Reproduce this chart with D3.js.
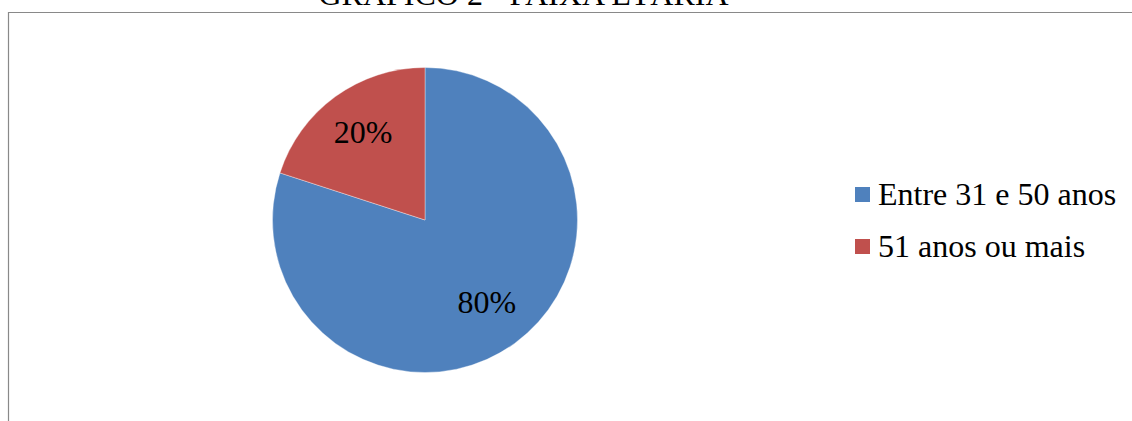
<!DOCTYPE html>
<html>
<head>
<meta charset="utf-8">
<script src="https://cdn.jsdelivr.net/npm/d3@7"></script>
</head>
<body style="margin:0">
<svg id="chart" width="1132" height="421"></svg>
<script>
// Age groups and their shares (percent)
const categories = ["Entre 31 e 50 anos", "51 anos ou mais"];
const values = [80, 20];
const colors = ["#4F81BD", "#C0504D"];
const title = "GRÁFICO 2 - FAIXA ETÁRIA";

const svg = d3.select("#chart");
const W = 1132, H = 421;
const fontSize = 32;

// Chart frame (top and left edges)
svg.append("path")
  .attr("d", `M8.5,${H} L8.5,12.5 L${W},12.5`)
  .attr("fill", "none")
  .attr("stroke", "#898989")
  .attr("stroke-width", 1.2);

// Title
svg.append("text")
  .attr("x", 523.5)
  .attr("y", 5)
  .attr("text-anchor", "middle")
  .attr("font-family", "Liberation Serif")
  .attr("font-size", fontSize)
  .text(title);

// Pie
const cx = 425, cy = 220, r = 152.5;
const data = categories.map((c, i) => ({ name: c, value: values[i], color: colors[i] }));
const pie = d3.pie().value(d => d.value).sort(null);
const arcs = pie(data);
const arc = d3.arc().innerRadius(0).outerRadius(r);
const labelArc = d3.arc().innerRadius(r * 0.69).outerRadius(r * 0.69);

const g = svg.append("g").attr("transform", `translate(${cx},${cy})`);
g.selectAll("path.slice")
  .data(arcs)
  .join("path")
  .attr("class", "slice")
  .attr("d", arc)
  .attr("fill", d => d.data.color)
  .attr("stroke", "rgba(255,255,255,0.6)")
  .attr("stroke-width", 0.6);

g.selectAll("text.lbl")
  .data(arcs)
  .join("text")
  .attr("class", "lbl")
  .attr("x", d => labelArc.centroid(d)[0])
  .attr("y", d => labelArc.centroid(d)[1] + 8)
  .attr("text-anchor", "middle")
  .attr("font-family", "Liberation Serif")
  .attr("font-size", fontSize)
  .text(d => d.data.value + "%");

// Legend
const legend = svg.append("g").attr("transform", "translate(855,187)");
const rowH = 52;
const item = legend.selectAll("g")
  .data(data)
  .join("g")
  .attr("transform", (d, i) => `translate(0,${i * rowH})`);
item.append("rect")
  .attr("width", 15)
  .attr("height", 15)
  .attr("fill", d => d.color);
item.append("text")
  .attr("x", 23)
  .attr("y", 18)
  .attr("font-family", "Liberation Serif")
  .attr("font-size", fontSize)
  .text(d => d.name);
</script>
</body>
</html>
